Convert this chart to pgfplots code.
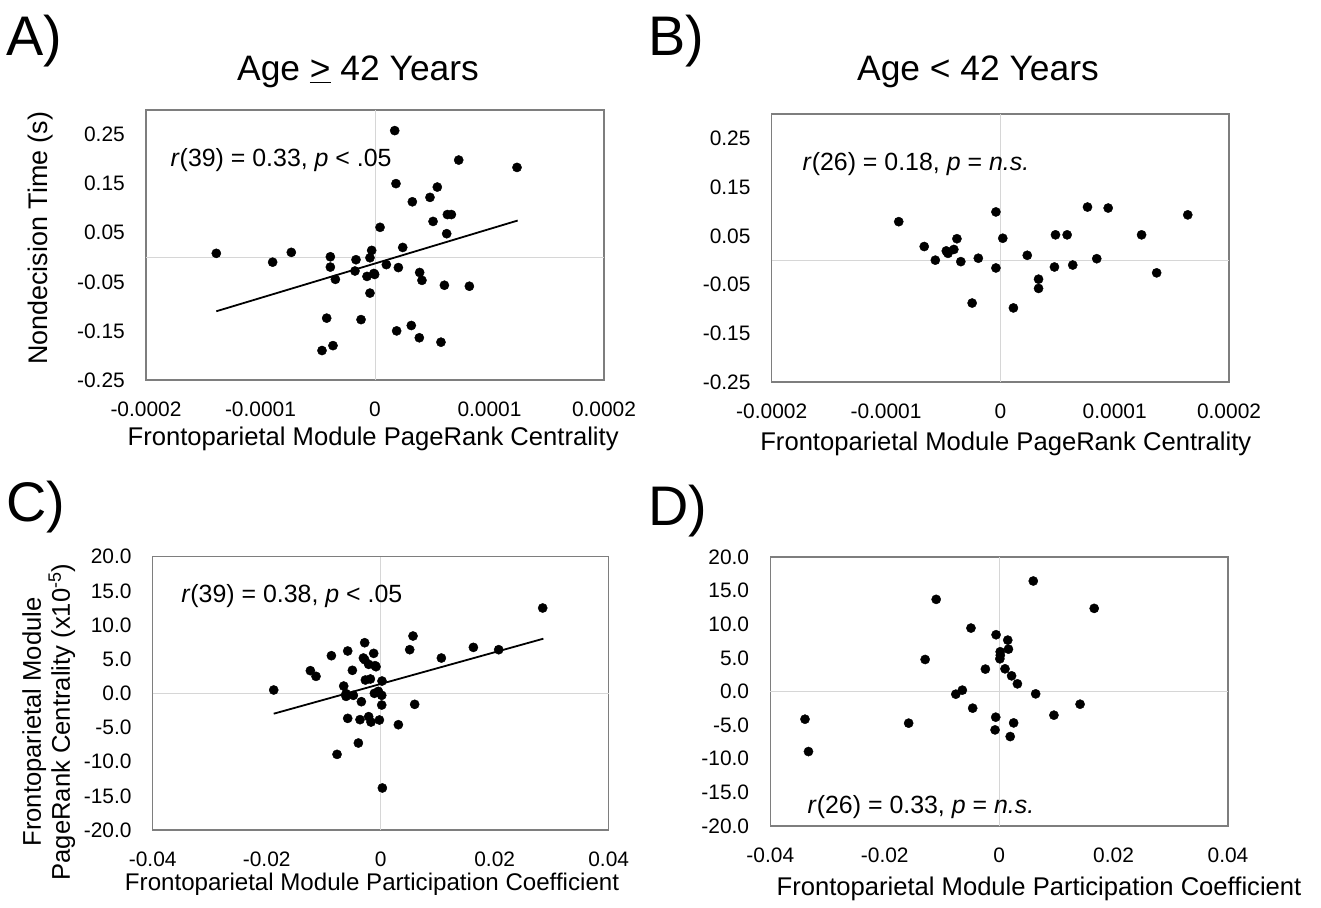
\documentclass[border=0pt]{standalone}
\usepackage{fontspec}
\setmainfont{Liberation Sans}
\usepackage{pgfplots}
\pgfplotsset{compat=1.18}

\definecolor{framegray}{HTML}{7E7E7E}
\definecolor{zerogray}{HTML}{D6D6D6}
\newcommand\tickfont{\fontsize{21}{24}\selectfont}
\newcommand\labfont{\fontsize{25.7}{29}\selectfont}
\newcommand\annfont{\fontsize{25}{28}\selectfont}
\newcommand\titlefont{\fontsize{35.5}{40}\selectfont}
\newcommand\letterfont{\fontsize{56}{62}\selectfont}

\pgfplotsset{
  panel/.style={
    scale only axis,
    axis line style={draw=framegray, line width=1.3bp},
    major tick length=0pt,
    tick style={draw=none},
    scaled ticks=false,
    every tick label/.append style={font=\tickfont},
    yticklabel style={anchor=east, inner sep=0pt, xshift=-21bp},
    xticklabel style={anchor=north, inner sep=0pt, yshift=-22bp},
    label style={font=\labfont},
    extra x ticks={0}, extra x tick labels={},
    extra y ticks={0}, extra y tick labels={},
    extra tick style={grid=major, major grid style={draw=zerogray, line width=1bp}},
  },
  pagerank/.style={
    xmin=-0.0002, xmax=0.0002,
    xtick={-0.0002,-0.0001,0,0.0001,0.0002},
    xticklabels={-0.0002,-0.0001,0,0.0001,0.0002},
    ymin=-0.25, ymax=0.30,
    ytick={-0.25,-0.15,-0.05,0.05,0.15,0.25},
    yticklabels={-0.25,-0.15,-0.05,0.05,0.15,0.25},
    xlabel={Frontoparietal Module PageRank Centrality},
  },
  partcoef/.style={
    xmin=-0.04, xmax=0.04,
    xtick={-0.04,-0.02,0,0.02,0.04},
    xticklabels={-0.04,-0.02,0,0.02,0.04},
    ymin=-20, ymax=20,
    ytick={-20,-15,-10,-5,0,5,10,15,20},
    yticklabels={-20.0,-15.0,-10.0,-5.0,0.0,5.0,10.0,15.0,20.0},
    xlabel={Frontoparietal Module Participation Coefficient},
  },
  dots/.style={only marks, mark=*, mark size=4.6bp, black},
  fit/.style={black, line width=1.8bp, no marks},
}

\begin{document}
\begin{tikzpicture}[x=1bp,y=1bp]
\useasboundingbox (0,0) rectangle (1321,907);

% A) age >= 42, nondecision time vs PageRank
\begin{axis}[panel, pagerank, at={(146bp,527bp)}, anchor=south west,
    width=458bp, height=270bp,
    xlabel style={at={(axis description cs:0.496,-0.241)}, anchor=base},
    ylabel={Nondecision Time (s)},
    ylabel style={at={(axis description cs:-0.231,0.525)}, anchor=center, font=\fontsize{27}{30}\selectfont}]
\addplot[dots] coordinates {
 (1.72e-5,0.258) (7.31e-5,0.198) (1.240e-4,0.183) (1.83e-5,0.150)
 (5.44e-5,0.143) (4.80e-5,0.122) (3.26e-5,0.113) (6.32e-5,0.087)
 (6.67e-5,0.087) (5.07e-5,0.073) (4.4e-6,0.061) (6.26e-5,0.048)
 (-1.386e-4,0.008) (-7.31e-5,0.010) (-8.94e-5,-0.010) (-3.90e-5,0.001)
 (-3.90e-5,-0.020) (-3.46e-5,-0.045) (-1.66e-5,-0.005) (-1.75e-5,-0.028)
 (-2.9e-6,0.014) (-4.4e-6,-0.001) (-7.0e-6,-0.039) (-3.0e-7,-0.035)
 (-4.4e-6,-0.073) (9.9e-6,-0.015) (2.42e-5,0.020) (2.04e-5,-0.021)
 (3.90e-5,-0.031) (4.10e-5,-0.047) (6.06e-5,-0.057) (8.24e-5,-0.059)
 (-4.22e-5,-0.124) (-1.22e-5,-0.127) (1.89e-5,-0.150) (3.17e-5,-0.139)
 (3.87e-5,-0.164) (5.76e-5,-0.173) (-4.63e-5,-0.190) (-3.67e-5,-0.180)
 (-1.0e-6,-0.033)
};
\addplot[fit] coordinates {(-1.386e-4,-0.110) (1.246e-4,0.0748)};
\node[anchor=base west, font=\annfont] at (rel axis cs:0.046,0.789)
  {\textit{r}(39) = 0.33, \textit{p} < .05};
\end{axis}

% B) age < 42, nondecision time vs PageRank
\begin{axis}[panel, pagerank, at={(771.7bp,525bp)}, anchor=south west,
    width=457.3bp, height=268bp,
    xlabel style={at={(axis description cs:0.512,-0.254)}, anchor=base}]
\addplot[dots] coordinates {
 (-8.89e-5,0.079) (-3.9e-6,0.099) (-6.66e-5,0.028) (-5.69e-5,0.000)
 (-4.73e-5,0.019) (-4.58e-5,0.014) (-4.07e-5,0.022) (-3.80e-5,0.044)
 (-3.46e-5,-0.003) (-1.93e-5,0.004) (-3.9e-6,-0.016) (2.1e-6,0.045)
 (-2.47e-5,-0.088) (1.14e-5,-0.098) (2.35e-5,0.010) (3.34e-5,-0.039)
 (3.34e-5,-0.058) (4.73e-5,-0.014) (4.82e-5,0.052) (5.84e-5,0.052)
 (6.33e-5,-0.010) (7.62e-5,0.109) (9.43e-5,0.107) (8.43e-5,0.003)
 (1.235e-4,0.052) (1.367e-4,-0.026) (1.639e-4,0.093) (-4.65e-5,0.017)
};
\node[anchor=base west, font=\annfont] at (rel axis cs:0.060,0.789)
  {\textit{r}(26) = 0.18, \textit{p} = \textit{n.s.}};
\end{axis}

% C) age >= 42, PageRank vs participation coefficient
\begin{axis}[panel, partcoef, at={(152.7bp,77bp)}, anchor=south west,
    width=456bp, height=273.3bp,
    xlabel style={at={(axis description cs:0.481,-0.220)}, anchor=base, font=\fontsize{24.2}{28}\selectfont},
    ylabel={Frontoparietal Module\\PageRank Centrality (x10\textsuperscript{-5})},
    ylabel style={at={(axis description cs:-0.228,0.395)}, anchor=center, align=center}]
\addplot[dots] coordinates {
 (0.02842,12.49) (0.00567,8.39) (0.00509,6.39) (0.01626,6.73)
 (0.0207,6.39) (0.01064,5.17) (-0.00281,7.41) (-0.00579,6.20)
 (-0.00865,5.51) (-0.00123,5.85) (-0.00281,4.93) (-0.00211,4.24)
 (-0.00082,3.90) (-0.00497,3.37) (-0.01234,3.32) (-0.01135,2.49)
 (-0.00269,1.95) (-0.00181,2.10) (0.00023,1.80) (-0.00649,1.07)
 (-0.01877,0.49) (-0.00608,-0.44) (-0.00480,-0.29) (-0.00111,0.00)
 (0.00018,-0.29) (-0.00339,-1.22) (0.00018,-1.71) (0.00596,-1.61)
 (-0.00579,-3.66) (-0.00363,-3.85) (-0.00211,-3.41) (-0.00170,-4.20)
 (-0.00023,-3.90) (0.00310,-4.59) (-0.00392,-7.27) (-0.00766,-8.93)
 (0.00029,-13.85) (-0.00608,-0.05) (-0.00304,5.17) (-0.00099,4.05)
 (-0.00041,0.29)
};
\addplot[fit] coordinates {(-0.01877,-2.98) (0.02854,8.0)};
\node[anchor=base west, font=\annfont] at (rel axis cs:0.055,0.831)
  {\textit{r}(39) = 0.38, \textit{p} < .05};
\end{axis}

% D) age < 42, PageRank vs participation coefficient
\begin{axis}[panel, partcoef, at={(770.3bp,81bp)}, anchor=south west,
    width=457.7bp, height=269bp,
    xlabel style={at={(axis description cs:0.587,-0.257)}, anchor=base}]
\addplot[dots] coordinates {
 (0.00596,16.43) (-0.01101,13.70) (0.01661,12.36) (-0.00493,9.43)
 (-0.00054,8.44) (0.00150,7.64) (0.00162,6.30) (0.00018,5.91)
 (0.00012,4.86) (-0.01294,4.76) (-0.00241,3.33) (0.00102,3.37)
 (0.00217,2.33) (0.00319,1.14) (-0.00644,0.20) (-0.00758,-0.40)
 (0.00638,-0.35) (0.01414,-1.89) (-0.00463,-2.48) (0.00957,-3.52)
 (-0.00060,-3.82) (0.00253,-4.67) (-0.01582,-4.71) (-0.03394,-4.12)
 (-0.00072,-5.71) (0.00193,-6.70) (-0.03333,-8.93) (0.00020,5.40)
};
\node[anchor=base west, font=\annfont] at (rel axis cs:0.074,0.045)
  {\textit{r}(26) = 0.33, \textit{p} = \textit{n.s.}};
\end{axis}

% panel letters and column titles
\node[anchor=base west, font=\letterfont, inner sep=0pt] at (6,851) {A)};
\node[anchor=base west, font=\letterfont, inner sep=0pt] at (648,851) {B)};
\node[anchor=base west, font=\letterfont, inner sep=0pt] at (6,385) {C)};
\node[anchor=base west, font=\letterfont, inner sep=0pt] at (648,381) {D)};
\node[anchor=base, font=\titlefont, inner sep=0pt] at (358,826) {Age \underline{>} 42 Years};
\node[anchor=base, font=\titlefont, inner sep=0pt] at (978,826) {Age < 42 Years};
\end{tikzpicture}
\end{document}
